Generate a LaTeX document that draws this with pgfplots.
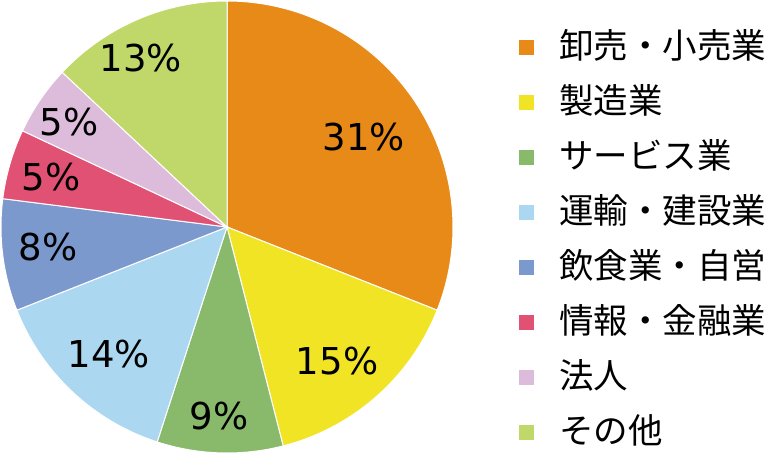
\documentclass[border=0pt]{standalone}
\usepackage{pgfplots}
\pgfplotsset{compat=1.18}
\usepackage{fontspec}
\setmainfont{DejaVu Sans}
\newfontfamily\cjk{Noto Sans CJK JP}
\definecolor{cA}{HTML}{E88A18}
\definecolor{cB}{HTML}{F1E425}
\definecolor{cC}{HTML}{89B96B}
\definecolor{cD}{HTML}{ABD8F0}
\definecolor{cE}{HTML}{7C99CE}
\definecolor{cF}{HTML}{E05173}
\definecolor{cG}{HTML}{DDBBDB}
\definecolor{cH}{HTML}{C0D869}
% slice: colour, cumulative percent before, percent, legend text
\newcommand\slice[4]{%
  \addplot[fill=#1, draw=white, line width=1bp, domain={90-3.6*(#2+#3)}:{90-3.6*#2}, samples=90]
    ({cos(x)},{sin(x)}) -- (axis cs:0,0) -- cycle;
  \addlegendentry{#4}
}
\begin{document}
\begin{tikzpicture}
\useasboundingbox (0,0) rectangle (768bp,454bp);
\begin{axis}[at={(1bp,1bp)}, anchor=south west, scale only axis,
  width=452bp, height=452bp, xmin=-1, xmax=1, ymin=-1, ymax=1,
  hide axis, clip=false,
  legend cell align=left,
  legend image code/.code={\path[#1,draw=none] (0bp,-7.5bp) rectangle (15bp,7.5bp);},
  legend style={draw=none, fill=none, at={(1.146,0.936)}, anchor=north west,
    font=\cjk\fontsize{34.5bp}{40bp}\selectfont, inner sep=0pt,
    row sep=21bp, column sep=25bp,
    nodes={inner sep=0pt, text height=28bp, text depth=6bp}},
]
\slice{cA}{0}{31}{卸売・小売業}
\slice{cB}{31}{15}{製造業}
\slice{cC}{46}{9}{サービス業}
\slice{cD}{55}{14}{運輸・建設業}
\slice{cE}{69}{8}{飲食業・自営}
\slice{cF}{77}{5}{情報・金融業}
\slice{cG}{82}{5}{法人}
\slice{cH}{87}{13}{その他}
\begin{scope}[every node/.style={font=\fontsize{37bp}{44bp}\selectfont, inner sep=0pt}]
\node at (axis cs:0.606,0.398) {31\%};
\node at (axis cs:0.487,-0.593) {15\%};
\node at (axis cs:-0.035,-0.836) {9\%};
\node at (axis cs:-0.522,-0.562) {14\%};
\node at (axis cs:-0.792,-0.088) {8\%};
\node at (axis cs:-0.779,0.221) {5\%};
\node at (axis cs:-0.699,0.465) {5\%};
\node at (axis cs:-0.381,0.748) {13\%};
\end{scope}
\end{axis}
\end{tikzpicture}
\end{document}
